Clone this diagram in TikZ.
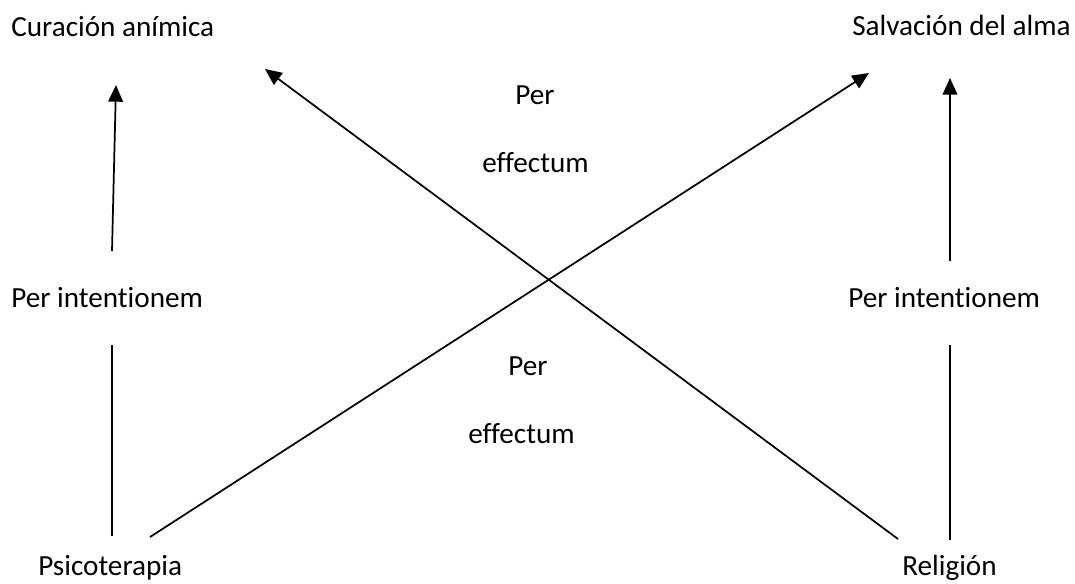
\documentclass[tikz,border=0pt]{standalone}
\usepackage{fontspec}
\setmainfont{Carlito}[Ligatures={NoCommon}]
\usetikzlibrary{arrows.meta}
\begin{document}
\begin{tikzpicture}[x=0.75pt,y=-0.75pt,
  lbl/.style={inner sep=0pt,anchor=base west,font=\fontsize{21.9pt}{26pt}\selectfont},
  conn/.style={line width=1.3pt,line cap=butt},
  arr/.style={conn,-{Triangle[length=12.5pt,width=11pt]}}]
\useasboundingbox (0,0) rectangle (1075,583);
% texts
\node[lbl] (cur) at (11,36) {Curación anímica};
\node[lbl] (sal) at (852,35) {Salvación del alma};
\node[lbl] (pil) at (11,307) {Per intentionem};
\node[lbl] (pir) at (848,307) {Per intentionem};
\node[lbl] (psi) at (38,575) {Psicoterapia};
\node[lbl] (rel) at (902,575) {Religión};
\node[lbl] (per1) at (515,104) {Per};
\node[lbl] (eff1) at (482,172) {effectum};
\node[lbl] (per2) at (508,375) {Per};
\node[lbl] (eff2) at (468,443) {effectum};
% connector end points
\coordinate (l1a) at (112,251);
\coordinate (l1b) at (116,85);
\coordinate (l2a) at (112,345);
\coordinate (l2b) at (112,536);
\coordinate (r1a) at (950,261);
\coordinate (r1b) at (950,78);
\coordinate (r2a) at (950,345);
\coordinate (r2b) at (950,540);
\coordinate (d1a) at (150,537);
\coordinate (d1b) at (869,73);
\coordinate (d2a) at (898,539);
\coordinate (d2b) at (265,69);
% connectors
\draw[arr] (l1a) -- (l1b);
\draw[conn] (l2a) -- (l2b);
\draw[arr] (r1a) -- (r1b);
\draw[conn] (r2a) -- (r2b);
\draw[arr] (d1a) -- (d1b);
\draw[arr] (d2a) -- (d2b);
\end{tikzpicture}
\end{document}
